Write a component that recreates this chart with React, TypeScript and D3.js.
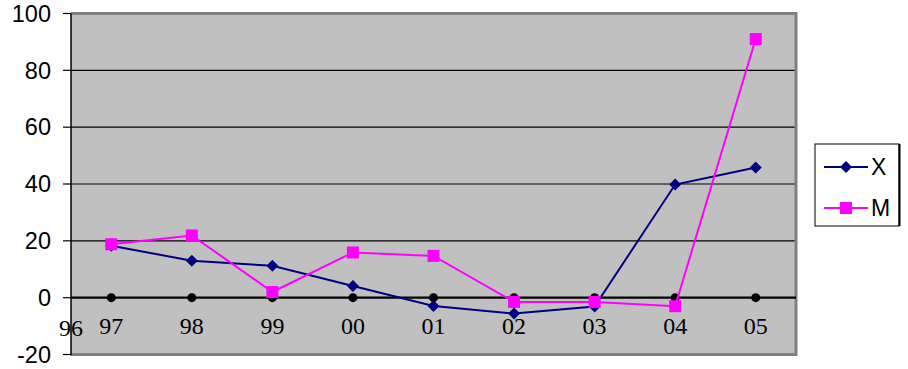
import React from "react";
import * as d3 from "d3";

const categories = ["97", "98", "99", "00", "01", "02", "03", "04", "05"];
const xValues = [18.3, 13, 11.2, 4.1, -2.9, -5.6, -3.1, 39.8, 45.8];
const mValues = [18.8, 21.9, 2.0, 15.9, 14.7, -1.5, -1.5, -3.0, 91];
const baseValues = [0, 0, 0, 0, 0, 0, 0, 0, 0];
const yTicks = [-20, 0, 20, 40, 60, 80, 100];
const firstLabel = "96";

const W = 908;
const H = 369;
const left = 71;
const right = 796;
const top = 13.5;
const bottom = 354.5;

const diamond = "M0,-6L6,0L0,6L-6,0Z";

export default function App() {
  const x = d3.scaleBand<string>().domain(categories).range([left, right]).padding(0);
  const cx = (c: string) => (x(c) as number) + x.bandwidth() / 2;
  const y = d3.scaleLinear().domain([-20, 100]).range([bottom, top]);
  const line = d3
    .line<number>()
    .x((_, i) => cx(categories[i]))
    .y((d) => y(d));

  return (
    <svg
      width={W}
      height={H}
      style={{ position: "absolute", left: 0, top: 0, background: "#fff" }}
    >
      <rect x={left} y={top} width={right - left} height={bottom - top} fill="#c0c0c0" />
      {yTicks
        .filter((t) => t !== 0 && t !== -20)
        .map((t) => (
          <line key={t} x1={left} x2={right} y1={y(t)} y2={y(t)} stroke="#000" strokeWidth={1.2} />
        ))}
      <path
        d={`M${left},${top} H${right} V${bottom} H${left}`}
        fill="none"
        stroke="#808080"
        strokeWidth={3}
      />
      <line x1={left} x2={left} y1={top} y2={bottom + 1} stroke="#000" strokeWidth={1.5} />
      {yTicks.map((t) => (
        <g key={t}>
          <line x1={left - 8} x2={left} y1={y(t)} y2={y(t)} stroke="#000" strokeWidth={1.2} />
          <text
            x={51}
            y={y(t)}
            dy="0.35em"
            textAnchor="end"
            fontFamily="Liberation Sans, Arial, sans-serif"
            fontSize={23.5}
            fill="#000"
          >
            {t}
          </text>
        </g>
      ))}
      <line x1={left} x2={right} y1={y(0)} y2={y(0)} stroke="#000" strokeWidth={2.2} />
      <text x={left} y={336} textAnchor="middle" fontFamily="Liberation Serif, Times New Roman, serif" fontSize={24} fill="#000">
        {firstLabel}
      </text>
      {categories.map((c) => (
        <text
          key={c}
          x={cx(c)}
          y={334}
          textAnchor="middle"
          fontFamily="Liberation Serif, Times New Roman, serif"
          fontSize={24}
          fill="#000"
        >
          {c}
        </text>
      ))}
      {baseValues.map((v, i) => (
        <circle key={i} cx={cx(categories[i])} cy={y(v)} r={4.5} fill="#000" />
      ))}
      <path d={line(xValues) || ""} fill="none" stroke="#000080" strokeWidth={2} />
      {xValues.map((v, i) => (
        <path key={i} d={diamond} transform={`translate(${cx(categories[i])},${y(v)})`} fill="#000080" />
      ))}
      <path d={line(mValues) || ""} fill="none" stroke="#ff00ff" strokeWidth={2} />
      {mValues.map((v, i) => (
        <rect key={i} x={cx(categories[i]) - 6} y={y(v) - 6} width={12} height={12} fill="#ff00ff" />
      ))}
      <rect x={815} y={144} width={84} height={82} fill="#fff" stroke="#000" strokeWidth={1} />
      <line x1={899.5} x2={899.5} y1={144} y2={226} stroke="#000" strokeWidth={2} />
      <line x1={824} x2={868} y1={167} y2={167} stroke="#000080" strokeWidth={2} />
      <path d={diamond} transform="translate(846,167)" fill="#000080" />
      <text x={871} y={167} dy="0.35em" fontFamily="Liberation Sans, Arial, sans-serif" fontSize={23} fill="#000">
        X
      </text>
      <line x1={824} x2={868} y1={208} y2={208} stroke="#ff00ff" strokeWidth={2} />
      <rect x={840} y={202} width={12} height={12} fill="#ff00ff" />
      <text x={871} y={208} dy="0.35em" fontFamily="Liberation Sans, Arial, sans-serif" fontSize={23} fill="#000">
        M
      </text>
    </svg>
  );
}
